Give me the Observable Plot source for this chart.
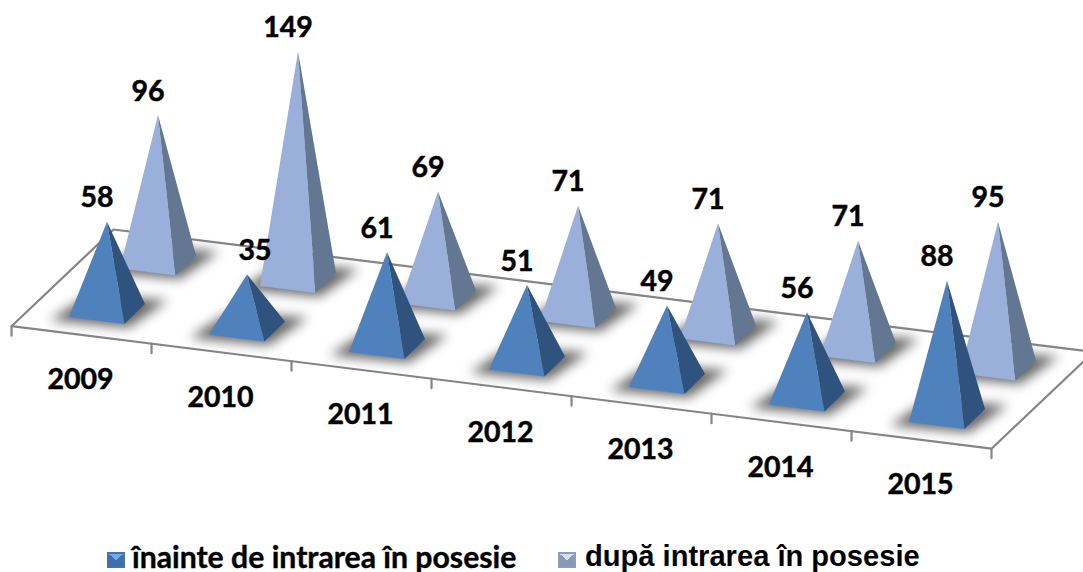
<!DOCTYPE html>
<html>
<head>
<meta charset="utf-8">
<script src="https://cdn.jsdelivr.net/npm/d3@7"></script>
<script src="https://cdn.jsdelivr.net/npm/@observablehq/plot@0.6"></script>
<style>
html,body{margin:0;padding:0;background:#fff;overflow:hidden}
svg{display:block}
.shadow{filter:blur(6px)}
#legend{position:relative;height:34px;width:1083px;color:#000}
#legend div{position:absolute;white-space:nowrap;height:26px;line-height:26px}
#legend i{position:absolute;display:block;box-sizing:border-box;top:14px;width:18px;height:16px;border:2px solid}
</style>
</head>
<body>
<div id="chart"></div>
<div id="legend"></div>
<script>
const years = ["2009","2010","2011","2012","2013","2014","2015"];
const seriesNames = ["înainte de intrarea în posesie","după intrarea în posesie"];
const before = [58,35,61,51,49,56,88];
const after = [96,149,69,71,71,71,95];
const leftColors = ["#4f81bd","#9ab0da"];
const rightColors = ["#30527f","#647792"];

// Oblique projection, in chart units: x = category steps, y = value units
const unit = 1.53;                       // pixels per value unit
const stepDrop = 17.5 / unit;            // a category further along sits lower
const depthX = 51 / 140, depthY = 48.5 / unit; // the second series sits further back
const halfW = [-38 / 140, -6.5 / unit];  // base corners relative to the base centre
const halfD = [17.5 / 140, -13.5 / unit];
const project = (i, s, v = 0) => ({x: i + s * depthX, y: v - i * stepDrop + s * depthY});
const offset = (p, a, b) => ({x: p.x + a * halfW[0] + b * halfD[0], y: p.y + a * halfW[1] + b * halfD[1]});

const rows = [];
[before, after].forEach((vals, s) => vals.forEach((v, i) => rows.push({year: years[i], i, s, v})));
rows.sort((a, b) => b.s - a.s);

const faces = [], shadows = [], labels = [];
for (const r of rows) {
  const c = project(r.i, r.s), top = project(r.i, r.s, r.v);
  const left = offset(c, 1, 0), corner = offset(c, 0, 1), right = offset(c, -1, 0);
  const id = r.s + "-" + r.i;
  [top, left, corner].forEach(p => faces.push({...p, z: id + "a", f: leftColors[r.s]}));
  [top, corner, right].forEach(p => faces.push({...p, z: id + "b", f: rightColors[r.s]}));
  [offset(c, 1.5, 0), offset(c, 0, 1.25), offset(c, -1.6, 0), offset(c, 0, -1.1)]
    .forEach(p => shadows.push({...p, z: id}));
  // the "35" label is pushed clear of its short pyramid, onto the taller neighbour
  const nudge = r.s === 0 && r.v === 35 ? 18 / 140 : 0;
  labels.push({x: top.x + nudge, y: top.y, t: String(r.v)});
}

// Floor outline: category ticks run along its front edge
const floorAt = (t, d) => ({x: -0.682 + t + d * 102 / 140, y: (310 - 325.7) / unit - t * stepDrop + d * 96.7 / unit});
const floor = [floorAt(0, 0), floorAt(7, 0), floorAt(7, 1), floorAt(0, 1), floorAt(0, 0)];
const tickLen = 9.5 / unit;
const ticks = d3.range(8).flatMap(t => {
  const p = floorAt(t, 0);
  return [{...p, z: t}, {x: p.x, y: p.y - tickLen, z: t}];
});
const catLabels = years.map((t, i) => ({...floorAt(i + 0.5, 0), t}));

const H = 538;
const plot = Plot.plot({
  width: 1083, height: H, margin: 0,
  x: {axis: null, domain: [-106.5 / 140, (1083 - 106.5) / 140], range: [0, 1083]},
  y: {axis: null, domain: [(310 - H) / unit, 310 / unit], range: [H, 0]},
  color: {type: "identity"},
  marks: [
    Plot.line(floor, {x: "x", y: "y", stroke: "#858585", strokeWidth: 2.2, strokeLinejoin: "miter"}),
    Plot.line(ticks, {x: "x", y: "y", z: "z", stroke: "#858585", strokeWidth: 2.2}),
    Plot.line(shadows, {x: "x", y: "y", z: "z", fill: "#666666", stroke: "none", curve: "linear-closed", className: "shadow"}),
    Plot.line(faces, {x: "x", y: "y", z: "z", fill: "f", stroke: "none", curve: "linear-closed"}),
    Plot.text(catLabels, {x: "x", y: "y", text: "t", dx: -1, dy: 45, fontSize: 28.5, fontWeight: 700, fontFamily: "Lato", fill: "#000", stroke: "#000", strokeWidth: 0.5}),
    Plot.text(labels, {x: "x", y: "y", text: "t", dx: -10, dy: -23.5, fontSize: 28.5, fontWeight: 700, fontFamily: "Lato", fill: "#000", stroke: "#000", strokeWidth: 0.5})
  ]
});
document.getElementById("chart").append(plot);

const legend = document.getElementById("legend");
legend.innerHTML = `
<i style="left:107px;border-color:#4373ad;background:conic-gradient(#74aaea 0 50deg,#3f6fa9 50deg 310deg,#74aaea 310deg)"></i>
<div style="left:132px;top:4.5px;font-family:Lato;font-weight:700;font-size:30.2px;-webkit-text-stroke:0.4px #000">${seriesNames[0]}</div>
<i style="left:558px;border-color:#8a9dc0;background:conic-gradient(#d3e0f4 0 50deg,#8899b8 50deg 310deg,#d3e0f4 310deg)"></i>
<div style="left:585px;top:5px;font-family:'Liberation Sans';font-weight:700;font-size:29.1px">${seriesNames[1]}</div>`;
</script>
</body>
</html>
